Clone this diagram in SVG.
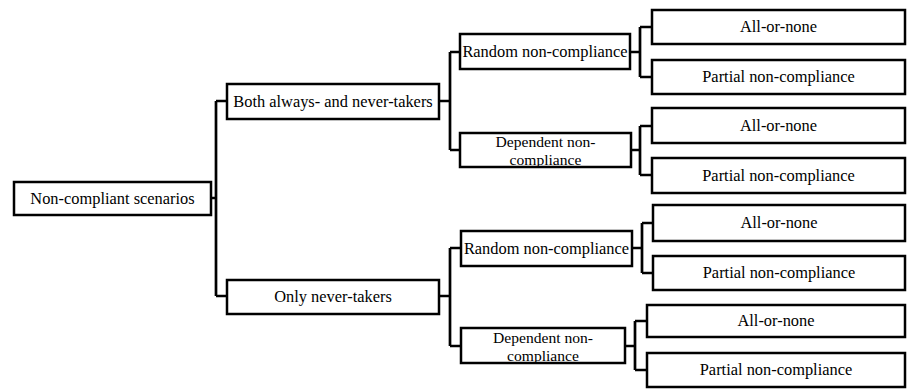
<svg xmlns="http://www.w3.org/2000/svg" width="907" height="389" viewBox="0 0 907 389">
<style>
rect{fill:#fff;stroke:#000;stroke-width:2.5}
text{font-family:"Liberation Serif","Times New Roman",serif;font-size:16.4px;fill:#000;text-anchor:middle}
text.s{font-size:15.6px}
.c{fill:none;stroke:#000;stroke-width:2.7}
</style>
<rect x="0" y="0" width="907" height="389" style="stroke:none"/>
<g id="connectors">
<path class="c" d="M211 198H216M216 101V296M216 101H227M216 296H227"/>
<path class="c" d="M439 101H450M450 52V150M450 52H460M450 150H460"/>
<path class="c" d="M439 296H450M450 248V346M450 248H461M450 346H461"/>
<path class="c" d="M630 52H640M640 27V77M640 27H652M640 77H652"/>
<path class="c" d="M631 150H640M640 126V175M640 126H652M640 175H652"/>
<path class="c" d="M632 248H642M642 223V273M642 223H653M642 273H653"/>
<path class="c" d="M625 346H635M635 321V370M635 321H647M635 370H647"/>
</g>
<g id="root"><rect x="14" y="182" width="197" height="33"/><text x="112.5" y="204">Non-compliant scenarios</text></g>
<g id="both"><rect x="227" y="84" width="212" height="35"/><text x="333" y="107">Both always- and never-takers</text></g>
<g id="only"><rect x="227" y="280" width="212" height="34"/><text x="333" y="302">Only never-takers</text></g>
<g id="both-random"><rect x="460" y="34" width="170" height="35"/><text x="545" y="57">Random non-compliance</text></g>
<g id="both-dependent"><rect x="460" y="133" width="171" height="34"/><text class="s" x="545.5" y="147">Dependent non-</text><text class="s" x="545.5" y="164.5">compliance</text></g>
<g id="only-random"><rect x="461" y="231" width="171" height="35"/><text x="546.5" y="254">Random non-compliance</text></g>
<g id="only-dependent"><rect x="461" y="328" width="164" height="35"/><text class="s" x="543" y="343">Dependent non-</text><text class="s" x="543" y="360.5">compliance</text></g>
<g id="leaf1"><rect x="652" y="10" width="253" height="34"/><text x="778.5" y="32">All-or-none</text></g>
<g id="leaf2"><rect x="652" y="60" width="253" height="34"/><text x="778.5" y="82">Partial non-compliance</text></g>
<g id="leaf3"><rect x="652" y="108" width="253" height="35"/><text x="778.5" y="131">All-or-none</text></g>
<g id="leaf4"><rect x="652" y="158" width="253" height="35"/><text x="778.5" y="181">Partial non-compliance</text></g>
<g id="leaf5"><rect x="653" y="205" width="252" height="36"/><text x="779" y="228">All-or-none</text></g>
<g id="leaf6"><rect x="653" y="256" width="252" height="34"/><text x="779" y="278">Partial non-compliance</text></g>
<g id="leaf7"><rect x="647" y="305" width="258" height="32"/><text x="776" y="326">All-or-none</text></g>
<g id="leaf8"><rect x="647" y="353" width="258" height="34"/><text x="776" y="375">Partial non-compliance</text></g>
</svg>
